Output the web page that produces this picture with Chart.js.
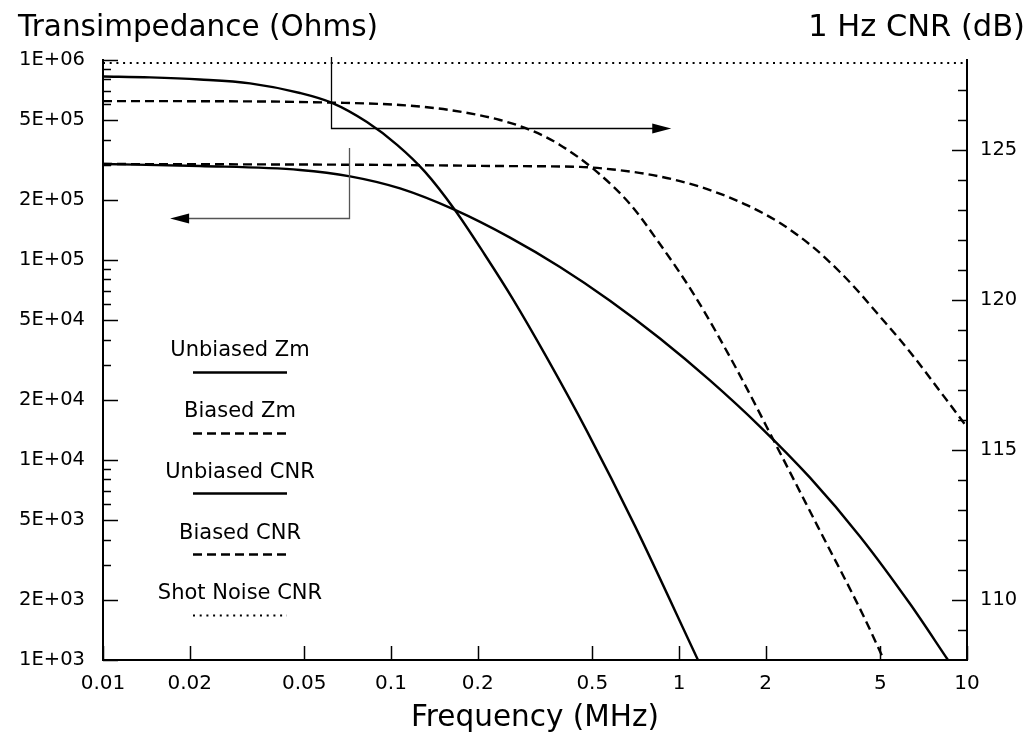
<!DOCTYPE html>
<html>
<head>
<meta charset="utf-8">
<title>Transimpedance and 1 Hz CNR</title>
<script src="https://cdn.jsdelivr.net/npm/chart.js@4.4.0/dist/chart.umd.min.js"></script>
<style>
	html, body { margin: 0; padding: 0; background: #fff; }
	canvas { display: block; }
</style>
</head>
<body>
<canvas id="zmChart" width="1031" height="739"></canvas>
<script>
"use strict"

// tick values
const freqTicks = [0.01, 0.02, 0.05, 0.1, 0.2, 0.5, 1, 2, 5, 10]
const zmTicks = [1e3, 2e3, 5e3, 1e4, 2e4, 5e4, 1e5, 2e5, 5e5, 1e6]
const cnrTicks = [110, 115, 120, 125]

// Unbiased Zm (Ohms) vs frequency (MHz)
const unbiasedZmFreq = [0.01, 0.0217, 0.0483, 0.0721, 0.1075, 0.1667, 0.259, 0.386, 0.576, 0.859, 1.281, 1.911, 2.85, 4.25, 6.34, 8.59]
const unbiasedZm = [3.02e5, 2.95e5, 2.82e5, 2.62e5, 2.28e5, 1.78e5, 1.294e5, 9.23e4, 6.26e4, 4.05e4, 2.5e4, 1.47e4, 8.16e3, 4.15e3, 1.91e3, 1.0e3]

// Biased Zm
const biasedZmFreq = [0.01, 0.1075, 0.239, 0.453, 0.59, 0.774, 1.008, 1.312, 1.722, 2.243, 2.92, 3.62, 4.15, 4.87, 6.34, 8.25, 10]
const biasedZm = [3.02e5, 2.985e5, 2.95e5, 2.92e5, 2.835e5, 2.69e5, 2.48e5, 2.21e5, 1.88e5, 1.53e5, 1.16e5, 8.71e4, 7.08e4, 5.43e4, 3.47e4, 2.11e4, 1.46e4]

// Unbiased CNR (dB)
const unbiasedCnrFreq = [0.01, 0.01456, 0.0217, 0.0324, 0.0483, 0.0624, 0.0825, 0.105, 0.1313, 0.1667, 0.212, 0.265, 0.348, 0.479, 0.703, 1.164]
const unbiasedCnr = [127.45, 127.42, 127.35, 127.22, 126.9, 126.57, 125.93, 125.17, 124.27, 123.0, 121.5, 120.03, 118.07, 115.63, 112.47, 108.0]

// Biased CNR
const biasedCnrFreq = [0.01, 0.0324, 0.0624, 0.1075, 0.1603, 0.239, 0.304, 0.386, 0.519, 0.676, 0.839, 1.136, 1.59, 2.19, 3.04, 4.355, 5.15]
const biasedCnr = [126.63, 126.62, 126.58, 126.5, 126.33, 126.0, 125.67, 125.17, 124.27, 123.2, 122.0, 120.13, 117.67, 115.1, 112.43, 109.5, 108.0]

// Shot noise CNR
const shotCnrFreq = [0.01, 10]
const shotCnr = [127.9, 127.9]

function toPoints(xs, ys) {
	return xs.map((x, i) => ({ x: x, y: ys[i] }))
}

function expLabel(v) {
	const e = Math.floor(Math.log10(v) + 1e-9)
	const m = Math.round(v / Math.pow(10, e))
	return m + "E+" + String(e).padStart(2, "0")
}

Chart.defaults.font.family = "'DejaVu Sans', sans-serif"
Chart.defaults.color = "#000"

// inward tick marks
const tickMarks = {
	id: "tickMarks",
	afterDatasetsDraw(chart) {
		const { ctx, chartArea: area, scales } = chart
		ctx.save()
		ctx.strokeStyle = "#000"
		ctx.lineWidth = 1.5
		ctx.setLineDash([])
		const line = (x1, y1, x2, y2) => {
			ctx.beginPath()
			ctx.moveTo(x1, y1)
			ctx.lineTo(x2, y2)
			ctx.stroke()
		}
		freqTicks.forEach(v => {
			const x = Math.round(scales.x.getPixelForValue(v)) + 0.5
			line(x, area.bottom, x, area.bottom - 14)
		})
		zmTicks.forEach(v => {
			const y = Math.round(scales.yL.getPixelForValue(v)) + 0.5
			line(area.left, y, area.left + 15, y)
		})
		;[1e3, 1e4, 1e5].forEach(d => {
			;[3, 4, 6, 7, 8, 9].forEach(m => {
				const y = Math.round(scales.yL.getPixelForValue(d * m)) + 0.5
				line(area.left, y, area.left + 8, y)
			})
		})
		for (let db = 109; db < 128; db++) {
			const y = Math.round(scales.yR.getPixelForValue(db)) + 0.5
			const len = cnrTicks.includes(db) ? 15 : 9
			line(area.right, y, area.right - len, y)
		}
		ctx.restore()
	},
}

// arrows pointing each curve pair to its axis
const axisArrows = {
	id: "axisArrows",
	afterDatasetsDraw(chart) {
		const { ctx, scales } = chart
		const arrows = [
			{ axis: "yR", freq: 0.0619, from: 128.1, to: 125.73, tip: 0.94, color: "#000" },
			{ axis: "yL", freq: 0.0715, from: 3.63e5, to: 1.62e5, tip: 0.0171, color: "#555" },
		]
		ctx.save()
		arrows.forEach(a => {
			const x0 = Math.round(scales.x.getPixelForValue(a.freq)) + 0.5
			const y0 = scales[a.axis].getPixelForValue(a.from)
			const y1 = Math.round(scales[a.axis].getPixelForValue(a.to)) + 0.5
			const xt = scales.x.getPixelForValue(a.tip)
			const dir = xt > x0 ? 1 : -1
			ctx.strokeStyle = a.color
			ctx.lineWidth = 1.3
			ctx.beginPath()
			ctx.moveTo(x0, y0)
			ctx.lineTo(x0, y1)
			ctx.lineTo(xt - dir * 18, y1)
			ctx.stroke()
			ctx.fillStyle = "#000"
			ctx.beginPath()
			ctx.moveTo(xt, y1)
			ctx.lineTo(xt - dir * 19, y1 - 5)
			ctx.lineTo(xt - dir * 19, y1 + 5)
			ctx.closePath()
			ctx.fill()
		})
		ctx.restore()
	},
}

// legend: label above a line sample
const stackedLegend = {
	id: "stackedLegend",
	afterDraw(chart) {
		const { ctx, chartArea: area } = chart
		const cx = area.left + 137
		ctx.save()
		ctx.font = "21px 'DejaVu Sans', sans-serif"
		ctx.fillStyle = "#000"
		ctx.textAlign = "center"
		ctx.textBaseline = "middle"
		chart.data.datasets.forEach((ds, i) => {
			const y = 351 + i * 60.7
			ctx.fillText(ds.label, cx, y)
			ctx.strokeStyle = "#000"
			ctx.lineWidth = ds.borderWidth
			ctx.setLineDash(ds.borderDash || [])
			ctx.beginPath()
			ctx.moveTo(cx - 47, Math.round(y + 21) + 0.5)
			ctx.lineTo(cx + 47, Math.round(y + 21) + 0.5)
			ctx.stroke()
		})
		ctx.restore()
	},
}

// axis titles along the top
const topTitles = {
	id: "topTitles",
	afterDraw(chart) {
		const ctx = chart.ctx
		ctx.save()
		ctx.fillStyle = "#000"
		ctx.textBaseline = "alphabetic"
		ctx.font = "29.5px 'DejaVu Sans', sans-serif"
		ctx.textAlign = "left"
		ctx.fillText("Transimpedance (Ohms)", 18, 36)
		ctx.font = "30.5px 'DejaVu Sans', sans-serif"
		ctx.textAlign = "right"
		ctx.fillText("1 Hz CNR (dB)", 1025, 36)
		ctx.restore()
	},
}

const ctx = document.getElementById("zmChart")
const myChart = new Chart(ctx, {
	type: "line",
	data: {
		datasets: [
			{
				label: "Unbiased Zm",
				data: toPoints(unbiasedZmFreq, unbiasedZm),
				yAxisID: "yL",
				borderColor: "#000",
				borderWidth: 2.4,
			},
			{
				label: "Biased Zm",
				data: toPoints(biasedZmFreq, biasedZm),
				yAxisID: "yL",
				borderColor: "#000",
				borderWidth: 2.4,
				borderDash: [9, 5],
			},
			{
				label: "Unbiased CNR",
				data: toPoints(unbiasedCnrFreq, unbiasedCnr),
				yAxisID: "yR",
				borderColor: "#000",
				borderWidth: 2.4,
			},
			{
				label: "Biased CNR",
				data: toPoints(biasedCnrFreq, biasedCnr),
				yAxisID: "yR",
				borderColor: "#000",
				borderWidth: 2.4,
				borderDash: [9, 5],
			},
			{
				label: "Shot Noise CNR",
				data: toPoints(shotCnrFreq, shotCnr),
				yAxisID: "yR",
				borderColor: "#000",
				borderWidth: 2,
				borderDash: [2, 4.7],
			},
		],
	},
	options: {
		responsive: false,
		animation: false,
		devicePixelRatio: 1,
		layout: {
			padding: { top: 60, left: 0, right: 0, bottom: 0 },
		},
		elements: {
			point: { radius: 0 },
			line: { cubicInterpolationMode: "monotone", fill: false },
		},
		plugins: {
			legend: { display: false },
			tooltip: { enabled: false },
		},
		scales: {
			x: {
				type: "logarithmic",
				position: "bottom",
				min: 0.01,
				max: 10,
				afterBuildTicks: scale => {
					scale.ticks = freqTicks.map(v => ({ value: v }))
				},
				afterFit: scale => {
					scale.height = 79
				},
				grid: { display: false, drawTicks: false },
				border: { display: true, color: "#000", width: 2 },
				ticks: {
					autoSkip: false,
					maxRotation: 0,
					padding: 12,
					font: { size: 20 },
					callback: v => String(v),
				},
				title: {
					display: true,
					text: "Frequency (MHz)",
					font: { size: 29.5 },
					padding: { top: 0, bottom: 3 },
				},
			},
			yL: {
				type: "logarithmic",
				position: "left",
				min: 1000,
				max: 1e6,
				afterBuildTicks: scale => {
					scale.ticks = zmTicks.map(v => ({ value: v }))
				},
				afterFit: scale => {
					scale.width = 103
				},
				grid: { display: false, drawTicks: false },
				border: { display: true, color: "#000", width: 2 },
				ticks: {
					autoSkip: false,
					padding: 18,
					font: { size: 19.5 },
					callback: v => expLabel(v),
				},
			},
			yR: {
				type: "linear",
				position: "right",
				min: 108,
				max: 128,
				afterBuildTicks: scale => {
					scale.ticks = cnrTicks.map(v => ({ value: v }))
				},
				afterFit: scale => {
					scale.width = 64
				},
				grid: { display: false, drawTicks: false },
				border: { display: true, color: "#000", width: 2 },
				ticks: {
					autoSkip: false,
					padding: 13,
					font: { size: 19.5 },
				},
			},
		},
	},
	plugins: [tickMarks, axisArrows, stackedLegend, topTitles],
})
</script>
</body>
</html>
